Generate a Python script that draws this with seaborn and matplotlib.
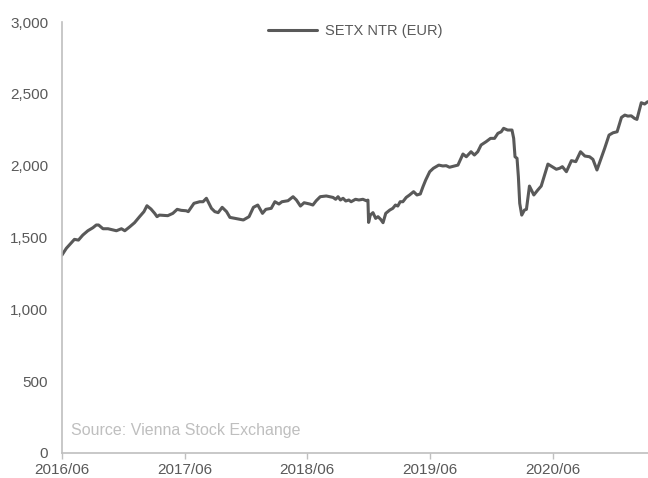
import pandas as pd
import matplotlib
matplotlib.use("Agg")
import matplotlib.pyplot as plt
import matplotlib.dates as mdates
import matplotlib.ticker as mticker
import seaborn as sns

# SETX NTR (EUR) index level
dates = [
    "2016-06-01", "2016-06-14", "2016-07-08", "2016-07-20", "2016-08-02", "2016-08-17",
    "2016-09-01", "2016-09-11", "2016-09-18", "2016-10-01", "2016-10-16", "2016-11-10",
    "2016-11-25", "2016-12-05", "2016-12-20", "2017-01-03", "2017-01-18", "2017-01-31",
    "2017-02-09", "2017-02-21", "2017-03-04", "2017-03-11", "2017-03-18", "2017-04-12",
    "2017-04-27", "2017-05-10", "2017-05-22", "2017-06-06", "2017-06-12", "2017-06-29",
    "2017-07-16", "2017-07-26", "2017-08-05", "2017-08-20", "2017-08-30", "2017-09-09",
    "2017-09-21", "2017-10-04", "2017-10-14", "2017-10-29", "2017-11-23", "2017-12-10",
    "2017-12-23", "2018-01-05", "2018-01-19", "2018-01-29", "2018-02-14", "2018-02-25",
    "2018-03-09", "2018-03-18", "2018-04-05", "2018-04-20", "2018-04-30", "2018-05-12",
    "2018-05-23", "2018-06-09", "2018-06-18", "2018-06-28", "2018-07-10", "2018-07-28",
    "2018-08-17", "2018-08-25", "2018-09-01", "2018-09-08", "2018-09-16", "2018-09-24",
    "2018-10-03", "2018-10-10", "2018-10-23", "2018-11-02", "2018-11-14", "2018-11-24",
    "2018-11-29", "2018-12-01", "2018-12-06", "2018-12-14", "2018-12-22", "2018-12-29",
    "2019-01-06", "2019-01-13", "2019-01-21", "2019-02-02", "2019-02-11", "2019-02-19",
    "2019-02-26", "2019-03-05", "2019-03-13", "2019-03-23", "2019-04-02", "2019-04-14",
    "2019-04-24", "2019-05-04", "2019-05-12", "2019-05-20", "2019-06-01", "2019-06-12",
    "2019-06-28", "2019-07-10", "2019-07-20", "2019-07-30", "2019-08-14", "2019-08-24",
    "2019-09-08", "2019-09-18", "2019-10-02", "2019-10-12", "2019-10-22", "2019-11-01",
    "2019-11-16", "2019-11-29", "2019-12-11", "2019-12-21", "2019-12-31", "2020-01-07",
    "2020-01-19", "2020-02-01", "2020-02-06", "2020-02-10", "2020-02-16", "2020-02-20",
    "2020-02-24", "2020-03-01", "2020-03-09", "2020-03-15", "2020-03-24", "2020-04-06",
    "2020-04-18", "2020-04-28", "2020-05-08", "2020-05-18", "2020-06-02", "2020-06-12",
    "2020-06-22", "2020-06-30", "2020-07-12", "2020-07-27", "2020-08-09", "2020-08-23",
    "2020-09-05", "2020-09-19", "2020-09-29", "2020-10-11", "2020-10-21", "2020-11-03",
    "2020-11-16", "2020-11-28", "2020-12-10", "2020-12-23", "2021-01-02", "2021-01-11",
    "2021-01-21", "2021-01-31", "2021-02-07", "2021-02-20", "2021-03-02", "2021-03-11",
]
values = [
    1378, 1425, 1487, 1482, 1517, 1547,
    1568, 1587, 1587, 1561, 1561, 1547,
    1561, 1547, 1575, 1603, 1645, 1680,
    1721, 1698, 1668, 1645, 1656, 1652,
    1668, 1696, 1689, 1686, 1680, 1738,
    1749, 1749, 1773, 1703, 1680, 1673,
    1710, 1680, 1640, 1633, 1622, 1645,
    1710, 1726, 1668, 1696, 1703, 1749,
    1733, 1749, 1756, 1784, 1761, 1719,
    1742, 1733, 1726, 1756, 1784, 1789,
    1779, 1766, 1784, 1761, 1773, 1754,
    1761, 1749, 1766, 1761, 1766, 1756,
    1760, 1605, 1656, 1673, 1633, 1645,
    1626, 1603, 1668, 1691, 1703, 1726,
    1719, 1749, 1749, 1779, 1796, 1819,
    1796, 1803, 1854, 1900, 1958, 1982,
    2004, 1998, 2000, 1989, 1998, 2004,
    2081, 2062, 2097, 2074, 2097, 2144,
    2167, 2190, 2190, 2225, 2236, 2260,
    2248, 2248, 2190, 2062, 2051, 1923,
    1738, 1656, 1691, 1696, 1858, 1796,
    1831, 1858, 1935, 2011, 1989, 1975,
    1982, 1993, 1958, 2035, 2028, 2097,
    2067, 2062, 2044, 1970, 2035, 2121,
    2213, 2229, 2236, 2336, 2352, 2345,
    2347, 2329, 2322, 2438, 2429, 2445,
]
series_name = "SETX NTR (EUR)"
source_note = "Source: Vienna Stock Exchange"

df = pd.DataFrame({"Date": pd.to_datetime(dates), "Value": values, "Series": series_name})

sns.set_theme(style="white")
plt.rcParams["font.family"] = ["Liberation Sans", "DejaVu Sans"]

text_grey = "#595959"
axis_grey = "#bfbfbf"

fig = plt.figure(figsize=(6.48, 4.78), dpi=100)
ax = fig.add_axes([62 / 648, 25 / 478, 586 / 648, 431 / 478])

sns.lineplot(data=df, x="Date", y="Value", hue="Series", palette=[text_grey],
             linewidth=2.2, ax=ax)

ax.set_xlim(pd.Timestamp("2016-06-01"), pd.Timestamp("2021-03-12"))
ax.set_ylim(0, 3000)
ax.xaxis.set_major_locator(mdates.MonthLocator(bymonth=6, bymonthday=1))
ax.xaxis.set_major_formatter(mdates.DateFormatter("%Y/%m"))
ax.yaxis.set_major_locator(mticker.MultipleLocator(500))
ax.yaxis.set_major_formatter(mticker.StrMethodFormatter("{x:,.0f}"))
ax.set_xlabel("")
ax.set_ylabel("")

for side in ["top", "right"]:
    ax.spines[side].set_visible(False)
for side in ["left", "bottom"]:
    ax.spines[side].set_color(axis_grey)
    ax.spines[side].set_linewidth(1.2)

ax.tick_params(axis="y", length=0, pad=10, labelsize=11, labelcolor=text_grey)
ax.tick_params(axis="x", length=4, width=1, color=axis_grey, pad=3,
               labelsize=11, labelcolor=text_grey, bottom=True)

ax.text(0.016, 0.052, source_note, transform=ax.transAxes, fontsize=11.5,
        color=axis_grey, ha="left", va="center")

ax.legend(loc="center", bbox_to_anchor=(0.5, (453 - 31) / 431), frameon=False,
          fontsize=10.5, handlelength=3.4, handletextpad=0.5, labelcolor=text_grey)

fig.savefig("out.png", dpi=100)
